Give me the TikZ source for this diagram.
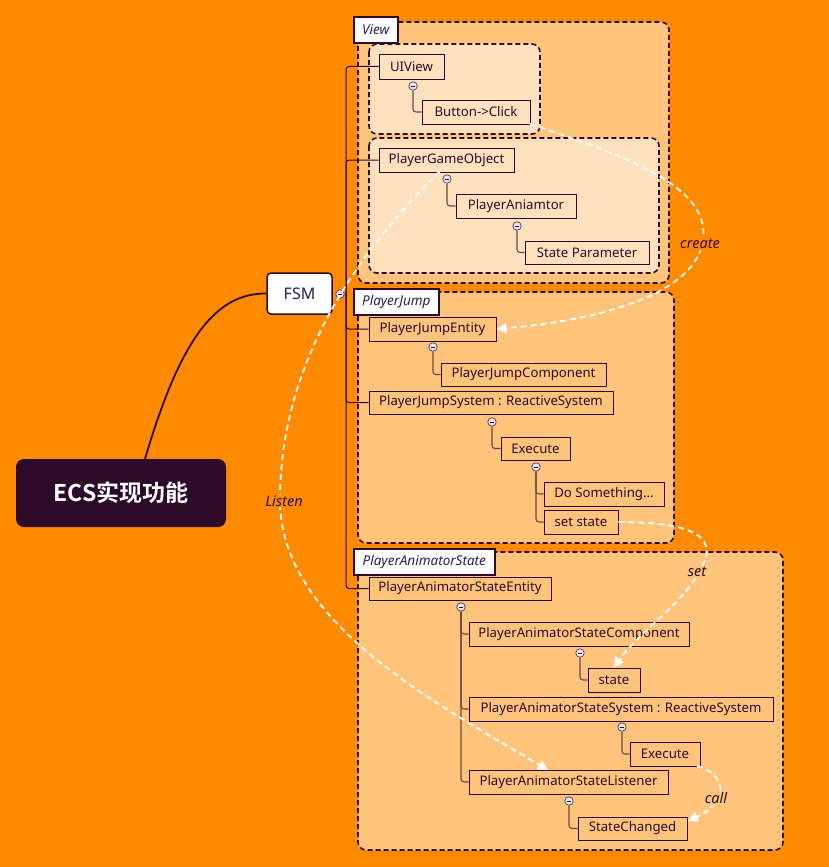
\documentclass[tikz,border=0pt]{standalone}
\usepackage{fontspec}
\setmainfont{Noto Sans}
\newfontfamily\cjkbold[BoldFont={Noto Sans CJK SC Bold}]{Noto Sans CJK SC}
\usetikzlibrary{arrows.meta}
\definecolor{bgor}{HTML}{FF8A00}
\definecolor{grpfill}{HTML}{FFC47C}
\definecolor{innfill}{HTML}{FFE1BE}
\definecolor{dk}{HTML}{2E0A2A}
\definecolor{lblc}{HTML}{2A1E5C}
\definecolor{chc}{HTML}{6A4848}
\tikzset{
  grp/.style={draw=dk, line width=1.6pt, dash pattern=on 5pt off 3pt, rounded corners=8pt},
  lbl/.style={draw=dk, line width=1.6pt, fill=white, text=lblc, font=\fontsize{13.5}{15}\selectfont\itshape, inner sep=0pt, anchor=north west},
  nd/.style={draw=dk, line width=0.9pt, text=dk, font=\fontsize{13.2}{15}\selectfont, inner sep=0pt},
  cc/.style={circle, draw=chc, line width=0.8pt, fill=white!90!blue, minimum size=8.5pt, inner sep=0pt,
    path picture={\draw[dk, line width=0.8pt] ([xshift=-2.2pt]path picture bounding box.center) -- ([xshift=2.2pt]path picture bounding box.center);}},
  spn/.style={draw=dk, line width=1pt, rounded corners=3pt},
  chl/.style={draw=chc, line width=1.1pt, rounded corners=3pt},
  rel/.style={draw=white, line width=1.8pt, dash pattern=on 6pt off 4pt, -{Triangle[length=10pt,width=10pt,fill=white]}},
  rlab/.style={text=dk, font=\fontsize{14.5}{16}\selectfont\itshape, inner sep=1pt}
}
\begin{document}
\begin{tikzpicture}[x=1pt,y=-1pt]
\useasboundingbox (0,0) rectangle (829,867);
\fill[bgor] (0,0) rectangle (829,867);

% group boxes
\path[grp, fill=grpfill] (358,22) rectangle (669,283);
\path[grp, fill=innfill] (369,44) rectangle (540,134);
\path[grp, fill=innfill] (369,138) rectangle (659,273);
\path[grp, fill=grpfill] (358,292) rectangle (674,543);
\path[grp, fill=grpfill] (358,552) rectangle (783,850);

\node[lbl, minimum width=44pt, minimum height=26pt] (lview) at (353,16) {View};
\node[lbl, minimum width=85pt, minimum height=26pt] (ljump) at (353,288) {PlayerJump};
\node[lbl, minimum width=141pt, minimum height=26pt] (lanim) at (353,548) {PlayerAnimatorState};

% root and FSM
\node[fill=dk, rounded corners=8pt, minimum width=210pt, minimum height=68pt, text=white,
  font=\cjkbold\bfseries\fontsize{23}{26}\selectfont] (root) at (121,493) {ECS实现功能};
\node[draw=dk, fill=white, line width=1.5pt, rounded corners=4pt, minimum width=65pt, minimum height=41pt,
  text=lblc, font=\fontsize{16}{18}\selectfont] (fsm) at (299.5,293.5) {FSM};
\coordinate (rootc) at (145,459);
\draw[dk, line width=1.8pt] (rootc) .. controls (180,340) and (215,293) .. (fsm.west);

% nodes
\node[nd, minimum width=65pt, minimum height=25pt] (uiview) at (411.5,66.5) {UIView};
\node[nd, minimum width=108pt, minimum height=24pt] (button) at (476,112) {Button->Click};
\node[nd, minimum width=135pt, minimum height=24pt] (pgo) at (446.5,160) {PlayerGameObject};
\node[nd, minimum width=120pt, minimum height=24pt] (panim) at (516,206) {PlayerAniamtor};
\node[nd, minimum width=124pt, minimum height=23pt] (statep) at (587,252.5) {State Parameter};
\node[nd, minimum width=127pt, minimum height=24pt] (pje) at (432.5,329) {PlayerJumpEntity};
\node[nd, minimum width=165pt, minimum height=23pt] (pjc) at (523.5,374.5) {PlayerJumpComponent};
\node[nd, minimum width=244pt, minimum height=23pt] (pjs) at (491,402.5) {PlayerJumpSystem : ReactiveSystem};
\node[nd, minimum width=69pt, minimum height=23pt] (exe1) at (535.5,448.5) {Execute};
\node[nd, minimum width=120pt, minimum height=24pt] (dos) at (604,494) {Do Something...};
\node[nd, minimum width=74pt, minimum height=24pt] (sets) at (581,522) {set state};
\node[nd, minimum width=182pt, minimum height=23pt] (pase) at (460,588.5) {PlayerAnimatorStateEntity};
\node[nd, minimum width=220pt, minimum height=24pt] (pasc) at (579,634) {PlayerAnimatorStateComponent};
\node[nd, minimum width=52pt, minimum height=24pt] (state) at (614,680) {state};
\node[nd, minimum width=304pt, minimum height=24pt] (pass) at (621,709) {PlayerAnimatorStateSystem : ReactiveSystem};
\node[nd, minimum width=70pt, minimum height=24pt] (exe2) at (665,754) {Execute};
\node[nd, minimum width=199pt, minimum height=24pt] (pasl) at (568.5,782) {PlayerAnimatorStateListener};
\node[nd, minimum width=109pt, minimum height=23pt] (stc) at (632.5,828.5) {StateChanged};

% collapse circles
\node[cc] (cfsm) at (340,294) {};
\node[cc] (cui) at (413,86) {};
\node[cc] (cpgo) at (447,179) {};
\node[cc] (cpan) at (517,226) {};
\node[cc] (cpje) at (433,347) {};
\node[cc] (cpjs) at (492,422) {};
\node[cc] (cexe) at (536,467) {};
\node[cc] (cpase) at (461,607) {};
\node[cc] (cpasc) at (580,653) {};
\node[cc] (cpass) at (622,727) {};
\node[cc] (cpasl) at (569,801) {};

% spine from FSM
\coordinate (sp) at (346,294);
\draw[dk, line width=1pt] (cfsm.east) -- (sp);
\draw[spn] (sp) |- (uiview.west);
\draw[spn] (sp) |- (pgo.west);
\draw[spn] (sp) |- (pje.west);
\draw[spn] (sp) |- (pjs.west);
\draw[spn] (sp) |- (pase.west);

% child connectors
\draw[chl] (cui.south) |- (button.west);
\draw[chl] (cpgo.south) |- (panim.west);
\draw[chl] (cpan.south) |- (statep.west);
\draw[chl] (cpje.south) |- (pjc.west);
\draw[chl] (cpjs.south) |- (exe1.west);
\draw[chl] (cexe.south) |- (dos.west);
\draw[chl] (cexe.south) |- (sets.west);
\draw[chl] (cpase.south) |- (pasc.west);
\draw[chl] (cpase.south) |- (pass.west);
\draw[chl] (cpase.south) |- (pasl.west);
\draw[chl] (cpasc.south) |- (state.west);
\draw[chl] (cpass.south) |- (exe2.west);
\draw[chl] (cpasl.south) |- (stc.west);

% relationship arrows
\coordinate (bsrc) at (530,124);
\coordinate (pgosrc) at (440,171);
\coordinate (pasltop) at (548,770);
\coordinate (exe2src) at (697,766);
\coordinate (stcdst) at (688,821);
\draw[rel] (bsrc) .. controls (640,160) and (710,190) .. (703,240)
  .. controls (695,300) and (580,322) .. (pje.east);
\draw[rel] (pgosrc) .. controls (360,250) and (280,360) .. (280,500)
  .. controls (280,620) and (430,700) .. (pasltop);
\draw[rel] (sets.east) .. controls (700,522) and (712,540) .. (705,560)
  .. controls (690,600) and (640,630) .. (state.north);
\draw[rel] (exe2src) .. controls (728,775) and (728,802) .. (stcdst);

\node[rlab, fill=bgor] (tcreate) at (700,244) {create};
\node[rlab, fill=bgor] (tlisten) at (284,501) {Listen};
\node[rlab, fill=grpfill] (tset) at (697,572) {set};
\node[rlab, fill=grpfill] (tcall) at (716,798) {call};
\end{tikzpicture}
\end{document}
